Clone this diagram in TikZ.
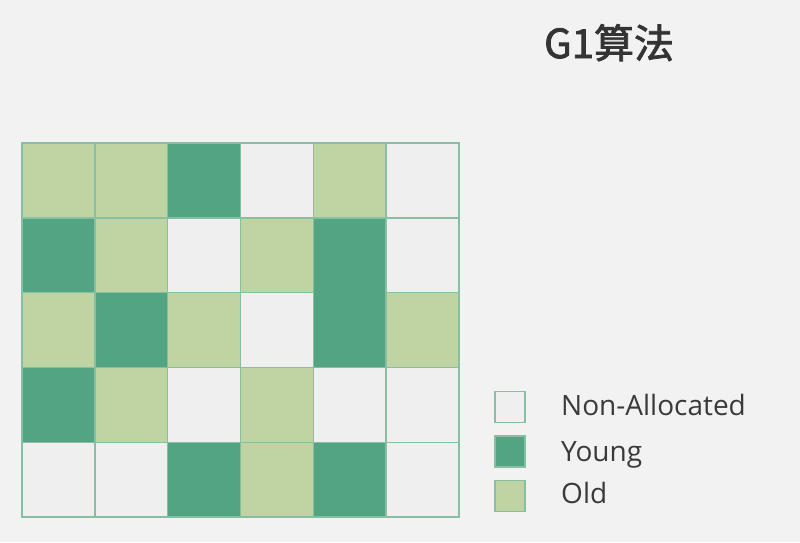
\documentclass[tikz,border=0pt]{standalone}
\usepackage{fontspec}
\setmainfont{Open Sans}
\newfontfamily\cjkfont[FakeBold=2]{Noto Sans CJK SC}
\definecolor{bgc}{HTML}{F2F2F2}
\definecolor{nonc}{HTML}{EFEFEF}
\definecolor{youngc}{HTML}{52A482}
\definecolor{oldc}{HTML}{BFD3A3}
\definecolor{linec}{HTML}{86BFA2}
\definecolor{txtc}{HTML}{3A3A3A}
\tikzset{
  cell/.style={draw=linec, line width=1.4pt},
  N/.style={cell, fill=nonc},
  Y/.style={cell, fill=youngc},
  O/.style={cell, fill=oldc},
  X/.style={},
  legbox/.style={draw=linec, line width=1.4pt, minimum width=30pt, minimum height=31pt, inner sep=0pt},
  legtxt/.style={anchor=base west, font=\fontsize{28}{32}\selectfont, text=txtc, inner sep=0pt}
}
\begin{document}
\begin{tikzpicture}[x=1pt,y=-1pt]
\fill[bgc] (0,0) rectangle (800,542);
\useasboundingbox (0,0) rectangle (800,542);
\def\cw{72.83}
\def\ch{74.8}
\foreach \s [count=\i from 0] in {O,O,Y,N,O,N} {
  \path[\s] (22+\i*\cw,143) rectangle ++(\cw,\ch);
}
\foreach \s [count=\i from 0] in {Y,O,N,O,X,N} {
  \path[\s] (22+\i*\cw,143+\ch) rectangle ++(\cw,\ch);
}
\foreach \s [count=\i from 0] in {O,Y,O,N,X,O} {
  \path[\s] (22+\i*\cw,143+2*\ch) rectangle ++(\cw,\ch);
}
\path[Y] (22+4*\cw,143+\ch) rectangle ++(\cw,2*\ch);
\foreach \s [count=\i from 0] in {Y,O,N,O,N,N} {
  \path[\s] (22+\i*\cw,143+3*\ch) rectangle ++(\cw,\ch);
}
\foreach \s [count=\i from 0] in {N,N,Y,O,Y,N} {
  \path[\s] (22+\i*\cw,143+4*\ch) rectangle ++(\cw,\ch);
}
\node[anchor=base west, inner sep=0pt, text=txtc!90!black, font=\cjkfont\fontsize{40}{44}\selectfont] (title) at (544,58) {G1算法};
\node[legbox, fill=nonc] (lnon) at (510,407) {};
\node[legbox, fill=youngc] (lyoung) at (510,451.5) {};
\node[legbox, fill=oldc] (lold) at (510,496) {};
\node[legtxt] (tnon) at (561,415) {Non-Allocated};
\node[legtxt] (tyoung) at (561,461) {Young};
\node[legtxt] (told) at (561,503) {Old};
\end{tikzpicture}
\end{document}
